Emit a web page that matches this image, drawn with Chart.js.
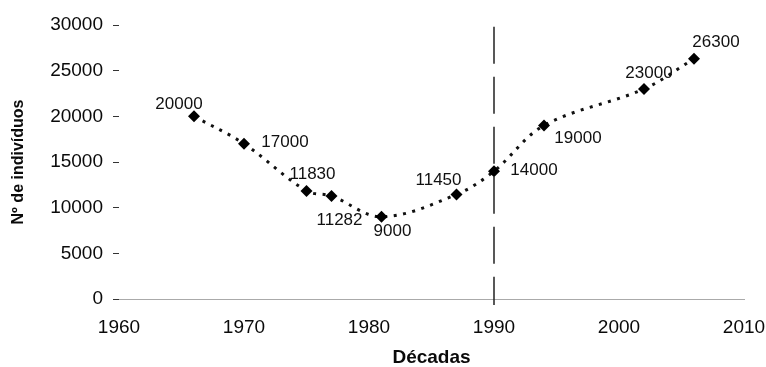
<!DOCTYPE html>
<html>
<head>
<meta charset="utf-8">
<script src="https://cdn.jsdelivr.net/npm/chart.js@4/dist/chart.umd.min.js"></script>
<style>
  html, body { margin: 0; padding: 0; background: #fff; }
  #wrap { width: 766px; height: 367px; position: relative; }
</style>
</head>
<body>
<div id="wrap"><canvas id="c"></canvas></div>
<script>
// Population counts by year
const years  = [1966, 1970, 1975, 1977, 1981, 1987, 1990, 1994, 2002, 2006];
const counts = [20000, 17000, 11830, 11282, 9000, 11450, 14000, 19000, 23000, 26300];
const xTicks = [1960, 1970, 1980, 1990, 2000, 2010];
const yTicks = [0, 5000, 10000, 15000, 20000, 25000, 30000];
const breakYear = 1990;

// Where each value label sits relative to its marker (dx, dy in px)
const labelOffsets = [
  [-15, -12], [41, -1], [6, -17], [8, 24], [11, 15],
  [-18, -14], [40, -1], [34, 13], [5, -16], [22, -16]
];

const FONT = '"Liberation Sans", Arial, sans-serif';

const annotate = {
  id: 'annotate',
  beforeDatasetsDraw(chart) {
    const { ctx, scales: { x, y } } = chart;
    const px = x.getPixelForValue(breakYear);
    ctx.save();
    ctx.strokeStyle = '#222';
    ctx.lineWidth = 1.5;
    ctx.setLineDash([37, 13]);
    ctx.beginPath();
    ctx.moveTo(px, y.getPixelForValue(29800));
    ctx.lineTo(px, y.bottom + 6);
    ctx.stroke();
    ctx.restore();
  },
  afterDatasetsDraw(chart) {
    const { ctx } = chart;
    const meta = chart.getDatasetMeta(0);
    ctx.save();
    ctx.font = '17px ' + FONT;
    ctx.fillStyle = '#111';
    ctx.textAlign = 'center';
    ctx.textBaseline = 'middle';
    meta.data.forEach((pt, i) => {
      const [dx, dy] = labelOffsets[i];
      ctx.fillText(String(counts[i]), pt.x + dx, pt.y + dy);
    });
    ctx.restore();
  }
};

new Chart(document.getElementById('c'), {
  type: 'line',
  data: {
    datasets: [{
      data: years.map((yr, i) => ({ x: yr, y: counts[i] })),
      borderColor: '#111',
      borderWidth: 3,
      borderDash: [3, 6.5],
      tension: 0.35,
      pointStyle: 'rectRot',
      pointRadius: 6,
      pointHoverRadius: 6,
      pointBackgroundColor: '#000',
      pointBorderColor: '#000',
      pointBorderWidth: 0,
      fill: false
    }]
  },
  options: {
    responsive: true,
    maintainAspectRatio: false,
    animation: false,
    events: [],
    layout: { padding: { left: 0, top: 25, right: 22, bottom: 0 } },
    plugins: { legend: { display: false }, tooltip: { enabled: false } },
    scales: {
      x: {
        type: 'linear',
        min: 1960, max: 2010,
        afterBuildTicks(scale) { scale.ticks = xTicks.map(v => ({ value: v })); },
        afterFit(scale) {
          scale.height = 68;
          scale.paddingLeft = 0;
          scale.paddingRight = 0;
        },
        grid: { display: false, drawOnChartArea: false },
        border: { display: true, color: '#aaa', width: 1, dash: [3, 3] },
        ticks: {
          padding: 9,
          color: '#0a0a0a',
          font: { family: FONT, size: 19 },
          maxRotation: 0,
          callback: v => String(v)
        },
        title: {
          display: true,
          text: 'Décadas',
          color: '#0a0a0a',
          font: { family: FONT, size: 19, weight: 'bold' },
          padding: { top: 0, bottom: -2 }
        }
      },
      y: {
        min: 0, max: 30000,
        afterBuildTicks(scale) { scale.ticks = yTicks.map(v => ({ value: v })); },
        afterFit(scale) { scale.width = 119; },
        grid: { drawOnChartArea: false, drawTicks: true, tickLength: 6, tickColor: '#333', tickWidth: 1 },
        border: { display: false },
        ticks: {
          padding: 10,
          color: '#0a0a0a',
          font: { family: FONT, size: 19 },
          callback: v => String(v)
        },
        title: {
          display: true,
          text: 'Nº de indivíduos',
          color: '#0a0a0a',
          font: { family: FONT, size: 16, weight: 'bold' },
          padding: { top: 9, bottom: 0 }
        }
      }
    }
  },
  plugins: [annotate]
});
</script>
</body>
</html>
